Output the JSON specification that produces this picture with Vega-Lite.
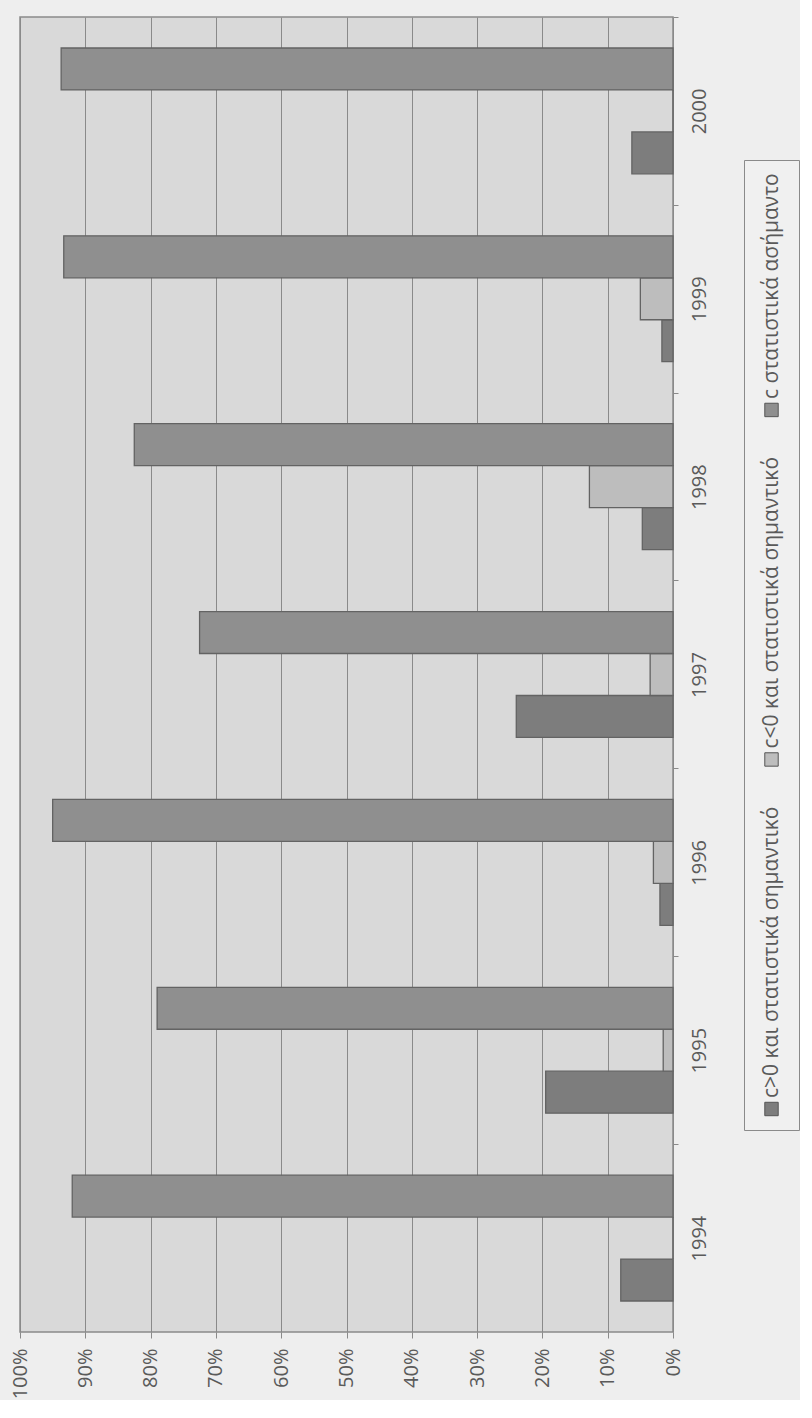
{
  "$schema": "https://vega.github.io/schema/vega-lite/v6.json",
  "background": "#eeeeee",
  "padding": {"left": 9, "top": 15, "right": 0, "bottom": 0},
  "config": {
    "font": "Open Sans",
    "axis": {"labelFont": "Open Sans", "labelFontSize": 20, "labelColor": "#5a5a5a", "domain": false, "tickColor": "#8a8a8a", "gridColor": "#8a8a8a", "title": null},
    "text": {"font": "Open Sans"}
  },
  "datasets": {
    "bars": [
      {"year": "1994", "series": "c>0 και στατιστικά σημαντικό", "pct": 8},
      {"year": "1994", "series": "c<0 και στατιστικά σημαντικό", "pct": 0},
      {"year": "1994", "series": "c στατιστικά ασήμαντο", "pct": 92},
      {"year": "1995", "series": "c>0 και στατιστικά σημαντικό", "pct": 19.5},
      {"year": "1995", "series": "c<0 και στατιστικά σημαντικό", "pct": 1.5},
      {"year": "1995", "series": "c στατιστικά ασήμαντο", "pct": 79},
      {"year": "1996", "series": "c>0 και στατιστικά σημαντικό", "pct": 2},
      {"year": "1996", "series": "c<0 και στατιστικά σημαντικό", "pct": 3},
      {"year": "1996", "series": "c στατιστικά ασήμαντο", "pct": 95},
      {"year": "1997", "series": "c>0 και στατιστικά σημαντικό", "pct": 24},
      {"year": "1997", "series": "c<0 και στατιστικά σημαντικό", "pct": 3.5},
      {"year": "1997", "series": "c στατιστικά ασήμαντο", "pct": 72.5},
      {"year": "1998", "series": "c>0 και στατιστικά σημαντικό", "pct": 4.7},
      {"year": "1998", "series": "c<0 και στατιστικά σημαντικό", "pct": 12.8},
      {"year": "1998", "series": "c στατιστικά ασήμαντο", "pct": 82.5},
      {"year": "1999", "series": "c>0 και στατιστικά σημαντικό", "pct": 1.7},
      {"year": "1999", "series": "c<0 και στατιστικά σημαντικό", "pct": 5},
      {"year": "1999", "series": "c στατιστικά ασήμαντο", "pct": 93.3},
      {"year": "2000", "series": "c>0 και στατιστικά σημαντικό", "pct": 6.3},
      {"year": "2000", "series": "c<0 και στατιστικά σημαντικό", "pct": 0},
      {"year": "2000", "series": "c στατιστικά ασήμαντο", "pct": 93.7}
    ],
    "legend": [
      {"series": "c>0 και στατιστικά σημαντικό"},
      {"series": "c<0 και στατιστικά σημαντικό"},
      {"series": "c στατιστικά ασήμαντο"}
    ]
  },
  "spacing": 33,
  "hconcat": [
    {
      "width": 653,
      "height": 1315,
      "data": {"name": "bars"},
      "view": {"fill": "#d9d9d9", "stroke": "#8a8a8a", "strokeWidth": 1.5},
      "mark": {"type": "bar", "stroke": "#636363", "strokeWidth": 1.3},
      "encoding": {
        "y": {
          "field": "year", "type": "ordinal", "sort": "descending",
          "scale": {"paddingInner": 0.33, "paddingOuter": 0.165},
          "axis": {"orient": "right", "labelAngle": -90, "labelAlign": "center", "labelBaseline": "top", "labelPadding": 11, "tickSize": 5, "tickOffset": -94, "labelOffset": 94, "grid": false, "labelOverlap": false}
        },
        "yOffset": {
          "field": "series", "type": "nominal",
          "scale": {"domain": ["c στατιστικά ασήμαντο", "c<0 και στατιστικά σημαντικό", "c>0 και στατιστικά σημαντικό"]}
        },
        "x": {
          "field": "pct", "type": "quantitative",
          "scale": {"domain": [0, 100], "reverse": true, "nice": false},
          "axis": {"orient": "bottom", "values": [0, 10, 20, 30, 40, 50, 60, 70, 80, 90, 100], "labelExpr": "datum.value + '%'", "labelAngle": -90, "labelAlign": "right", "labelBaseline": "middle", "labelPadding": 10, "tickSize": 6, "grid": true, "gridWidth": 1, "labelFlush": false, "labelOverlap": false}
        },
        "color": {
          "field": "series", "type": "nominal",
          "scale": {"domain": ["c>0 και στατιστικά σημαντικό", "c<0 και στατιστικά σημαντικό", "c στατιστικά ασήμαντο"], "range": ["#7d7d7d", "#bdbdbd", "#8f8f8f"]},
          "legend": null
        }
      }
    },
    {
      "spacing": 20,
      "vconcat": [
        {
          "width": 55,
          "height": 122,
          "data": {"values": [{"k": 1}]},
          "mark": {"type": "text"},
          "encoding": {},
          "view": {"stroke": null}
        },
        {
          "width": 55,
          "height": 970,
          "data": {"name": "legend"},
          "view": {"stroke": "#8a8a8a", "fill": "#f0f0f0"},
          "encoding": {
            "y": {
              "field": "series", "type": "nominal",
              "scale": {"type": "point", "domain": ["c στατιστικά ασήμαντο", "c<0 και στατιστικά σημαντικό", "c>0 και στατιστικά σημαντικό"], "padding": 0.3876, "align": 0.9225},
              "axis": null
            }
          },
          "layer": [
            {
              "mark": {"type": "square", "size": 180, "opacity": 1, "stroke": "#555555", "strokeWidth": 1},
              "encoding": {
                "color": {
                  "field": "series", "type": "nominal",
                  "scale": {"domain": ["c>0 και στατιστικά σημαντικό", "c<0 και στατιστικά σημαντικό", "c στατιστικά ασήμαντο"], "range": ["#7d7d7d", "#bdbdbd", "#8f8f8f"]},
                  "legend": null
                }
              }
            },
            {
              "mark": {"type": "text", "angle": -90, "align": "left", "baseline": "middle", "fontSize": 21, "color": "#5a5a5a", "yOffset": -11},
              "encoding": {"text": {"field": "series"}}
            }
          ]
        }
      ]
    }
  ]
}
